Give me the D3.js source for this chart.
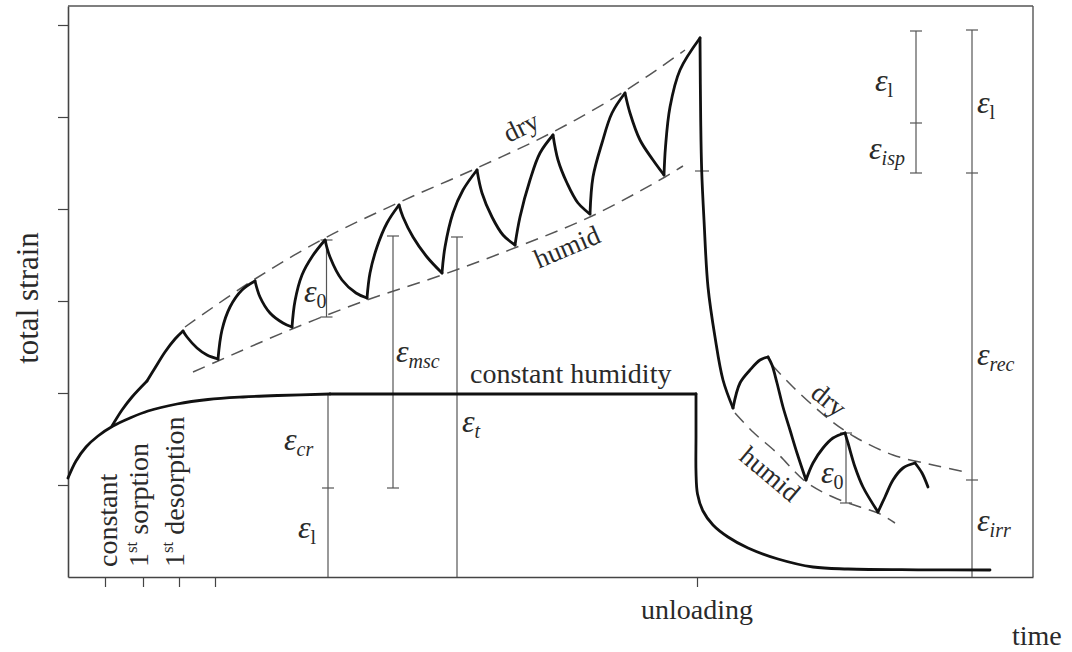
<!DOCTYPE html>
<html>
<head>
<meta charset="utf-8">
<script src="https://cdn.jsdelivr.net/npm/d3@7/dist/d3.min.js"></script>
<style>
  html, body { margin: 0; padding: 0; background: #fff; }
  svg { display: block; }
  text { font-family: "Liberation Serif", "DejaVu Serif", serif; fill: #2a2a2a; }
</style>
</head>
<body>
<svg id="chart" width="1072" height="652"></svg>
<script>
// ---------------- data (time units, strain units) ----------------
const yTicks = [9.2, 18.4, 27.6, 36.8, 46.0, 55.2];
const xTicks = [3.7, 7.5, 11.1, 14.7, 62.9];

// creep under constant humidity
const creepLoad = [[0,9.9],[0.8,11.6],[1.8,13.0],[3.0,14.1],[4.5,15.1],[6.2,15.9],[8.0,16.6],[10.9,17.3],[14.0,17.75],[17.5,18.0],[21.0,18.15],[26.2,18.3]];
const creepFlat = [[26.2,18.3],[62.8,18.3]];
const creepRecovery = [[62.8,18.3],[62.8,14.0],[62.8,10.5],[62.95,8.3],[63.5,6.6],[64.5,5.2],[66.0,4.0],[68.0,2.9],[71.0,1.8],[74.5,1.0],[78.0,0.8],[85.0,0.72],[92.2,0.7]];

// mechano-sorptive creep (cyclic humidity)
const msRamp = [[4.4,15.1],[5.4,16.7],[6.4,18.0],[7.9,19.6]];
const msArcs = [
  [[7.9,19.6],[8.7,20.9],[9.7,22.5],[10.7,23.8],[11.5,24.6]],
  [[11.5,24.6],[11.9,24.0],[12.9,22.9],[13.9,22.2],[15.0,21.8]],
  [[15.0,21.8],[15.4,24.7],[16.2,27.0],[17.4,28.7],[18.7,29.6]],
  [[18.7,29.6],[19.2,28.0],[20.2,26.4],[21.5,25.4],[22.4,25.0]],
  [[22.4,25.0],[22.7,27.6],[23.4,30.2],[24.45,32.1],[25.7,33.7]],
  [[25.7,33.7],[26.2,32.0],[27.4,29.7],[28.8,28.4],[29.9,27.9]],
  [[29.9,27.9],[30.2,30.4],[30.9,33.0],[31.9,35.4],[33.1,37.2]],
  [[33.1,37.2],[33.5,36.0],[34.5,34.0],[35.9,32.0],[37.4,30.4]],
  [[37.4,30.4],[37.7,33.0],[38.5,36.4],[39.5,38.7],[40.9,40.7]],
  [[40.9,40.7],[41.4,38.4],[42.4,36.0],[43.5,34.2],[44.7,33.2]],
  [[44.7,33.2],[45.2,36.0],[46.2,39.7],[47.2,42.4],[48.5,44.2]],
  [[48.5,44.2],[49.0,41.7],[49.9,39.4],[51.0,37.4],[52.2,36.3]],
  [[52.2,36.3],[52.5,40.0],[53.4,43.4],[54.4,46.4],[55.7,48.4]],
  [[55.7,48.4],[56.2,46.4],[57.2,43.7],[58.5,41.7],[59.6,40.2]],
  [[59.6,40.2],[59.75,43.0],[60.2,47.0],[61.2,50.7],[63.2,53.9]]
];
const msUnload = [[63.2,53.9],[63.27,45.7],[63.37,40.6],[63.6,35.7],[64.0,29.0],[64.7,24.0],[65.5,19.7],[66.5,16.9]];
const msRecoveryArcs = [
  [[66.5,16.9],[67.2,19.4],[68.2,20.7],[69.2,21.7],[70.0,22.0]],
  [[70.0,22.0],[70.4,21.2],[70.9,19.4],[71.5,17.0],[72.2,14.7],[72.9,12.4],[73.8,9.7]],
  [[73.8,9.7],[74.5,11.4],[75.5,12.9],[76.5,13.9],[77.7,14.4]],
  [[77.7,14.4],[78.0,13.4],[78.7,11.0],[79.5,9.0],[81.0,6.5]],
  [[81.0,6.5],[81.7,8.0],[82.5,9.7],[83.5,10.9],[84.7,11.4]],
  [[84.7,11.4],[85.4,10.4],[86.0,9.0]]
];

// envelopes
const dryLoad = [[11.7,25.0],[18.7,29.8],[25.7,33.9],[33.2,37.5],[40.9,40.9],[48.5,44.5],[55.7,48.6],[61.7,52.7]];
const humidLoad = [[12.5,20.5],[15.0,21.6],[22.4,24.8],[29.9,27.7],[37.4,30.2],[44.9,33.0],[52.4,36.1],[59.7,40.0],[61.5,41.1]];
const dryRecovery = [[70.4,21.2],[72.5,19.0],[76.2,15.7],[78.7,14.0],[82.5,12.2],[86.5,11.2],[89.7,10.5]];
const humidRecovery = [[66.7,16.4],[68.5,14.5],[70.9,12.4],[73.8,9.5],[76.5,8.0],[79.2,7.0],[81.0,6.4],[82.7,5.4]];

// dimension lines: time, strain from, strain to, capped strain levels
const dimTime  = [26.0, 25.85, 32.5, 38.9, 84.8, 90.4, 77.8];
const dimFrom  = [18.3, 33.7, 34.1, 34.0, 54.6, 54.7, 14.4];
const dimTo    = [0,    26.0, 8.9,  0,    40.4, 0,    7.4];
const dimCaps  = [[8.9],[33.7,26.0],[34.1,8.9],[34.0],[54.6,45.4,40.4],[54.7,40.4,9.7],[14.4,7.4]];
const unloadMark = [63.4, 40.6];

// strain symbols: subscript, italic subscript?, time, strain
const symSub    = ["0", "msc", "cr", "l", "t", "l", "isp", "l", "rec", "irr", "0"];
const symItalic = [false, true, true, false, true, false, true, false, true, true, false];
const symTime   = [23.6, 32.8, 21.6, 23.0, 39.4, 80.7, 80.1, 90.9, 90.9, 90.9, 75.3];
const symStrain = [27.5, 21.5, 12.7, 3.9, 14.5, 48.6, 41.8, 46.4, 21.2, 4.6, 9.4];

// word labels: text, time, strain, angle
const wordText  = ["dry", "humid", "dry", "humid"];
const wordTime  = [45.3, 49.9, 76.1, 70.2];
const wordStrain= [45.0, 33.0, 17.7, 10.3];
const wordAngle = [-26, -23, 39, 40];

// ---------------- drawing ----------------
const svg = d3.select("#chart");
const x = d3.scaleLinear().domain([0, 96.5]).range([68, 1033]);
const y = d3.scaleLinear().domain([0, 57.1]).range([577, 6]);

const smooth = d3.line().x(d => x(d[0])).y(d => y(d[1])).curve(d3.curveCatmullRom.alpha(0.5));
const straight = d3.line().x(d => x(d[0])).y(d => y(d[1]));

// frame
svg.append("line").attr("x1", x(0)).attr("x2", x(96.5)).attr("y1", y(57.1)).attr("y2", y(57.1))
  .attr("stroke", "#555").attr("stroke-width", 1.4);
svg.append("line").attr("x1", x(96.5)).attr("x2", x(96.5)).attr("y1", y(57.1)).attr("y2", y(0))
  .attr("stroke", "#555").attr("stroke-width", 1.4);

const yAxis = svg.append("g").attr("transform", `translate(${x(0)},0)`)
  .call(d3.axisLeft(y).tickValues(yTicks).tickSize(10).tickSizeOuter(0).tickFormat(""));
const xAxis = svg.append("g").attr("transform", `translate(0,${y(0)})`)
  .call(d3.axisBottom(x).tickValues(xTicks).tickSize(10).tickSizeOuter(0).tickFormat(""));
[yAxis, xAxis].forEach(g => {
  g.select(".domain").attr("stroke", "#444").attr("stroke-width", 1.6);
  g.selectAll(".tick line").attr("stroke", "#444").attr("stroke-width", 1.2);
});

// dimension lines
const dimG = svg.append("g").attr("stroke", "#555").attr("stroke-width", 1.2);
dimTime.forEach((t, i) => {
  dimG.append("line").attr("x1", x(t)).attr("x2", x(t)).attr("y1", y(dimFrom[i])).attr("y2", y(dimTo[i]));
  dimCaps[i].forEach(c => {
    dimG.append("line").attr("x1", x(t) - 6).attr("x2", x(t) + 6).attr("y1", y(c)).attr("y2", y(c));
  });
});
dimG.append("line").attr("x1", x(unloadMark[0]) - 7).attr("x2", x(unloadMark[0]) + 7)
  .attr("y1", y(unloadMark[1])).attr("y2", y(unloadMark[1]));

// envelopes
const envG = svg.append("g").attr("fill", "none").attr("stroke", "#555")
  .attr("stroke-width", 1.5).attr("stroke-dasharray", "13,8");
[dryLoad, humidLoad, dryRecovery, humidRecovery].forEach(d => envG.append("path").attr("d", smooth(d)));

// curves
const curveG = svg.append("g").attr("fill", "none").attr("stroke", "#111")
  .attr("stroke-width", 2.8).attr("stroke-linejoin", "round").attr("stroke-linecap", "round");
curveG.append("path").attr("d", smooth(creepLoad));
curveG.append("path").attr("d", straight(creepFlat));
curveG.append("path").attr("d", smooth(creepRecovery));
curveG.append("path").attr("d", smooth(msRamp));
msArcs.forEach(a => curveG.append("path").attr("d", smooth(a)));
curveG.append("path").attr("d", smooth(msUnload));
msRecoveryArcs.forEach(a => curveG.append("path").attr("d", smooth(a)));

// strain symbols
symSub.forEach((s, i) => {
  const t = svg.append("text").attr("x", x(symTime[i])).attr("y", y(symStrain[i]));
  t.append("tspan").attr("font-size", 32).attr("font-style", "italic").text("ε");
  t.append("tspan").attr("font-size", 20).attr("font-style", symItalic[i] ? "italic" : "normal")
    .attr("dy", 6).text(s);
});

// word labels along envelopes
wordText.forEach((w, i) => {
  svg.append("text").attr("font-size", 27).attr("text-anchor", "middle").attr("dominant-baseline", "central")
    .attr("transform", `translate(${x(wordTime[i])},${y(wordStrain[i])}) rotate(${wordAngle[i]})`).text(w);
});

svg.append("text").attr("font-size", 28).attr("x", x(40.2)).attr("y", y(19.4)).text("constant humidity");

// phase labels (vertical)
const phaseX = [x(4.9), x(8.0), x(11.6)];
const phase = [["constant"], ["1", "st", " sorption"], ["1", "st", " desorption"]];
phase.forEach((p, i) => {
  const t = svg.append("text").attr("font-size", 28)
    .attr("transform", `translate(${phaseX[i]},${y(1.0)}) rotate(-90)`);
  if (p.length === 1) t.text(p[0]);
  else {
    t.append("tspan").text(p[0]);
    t.append("tspan").attr("font-size", 17).attr("dy", -11).text(p[1]);
    t.append("tspan").attr("dy", 11).text(p[2]);
  }
});

// axis titles
svg.append("text").attr("font-size", 28).attr("text-anchor", "middle")
  .attr("x", x(62.9)).attr("y", y(0) + 42).text("unloading");
svg.append("text").attr("font-size", 28).attr("x", 1012).attr("y", 645).text("time");
svg.append("text").attr("font-size", 31).attr("text-anchor", "middle")
  .attr("transform", `translate(38,298) rotate(-90)`).text("total strain");
</script>
</body>
</html>
